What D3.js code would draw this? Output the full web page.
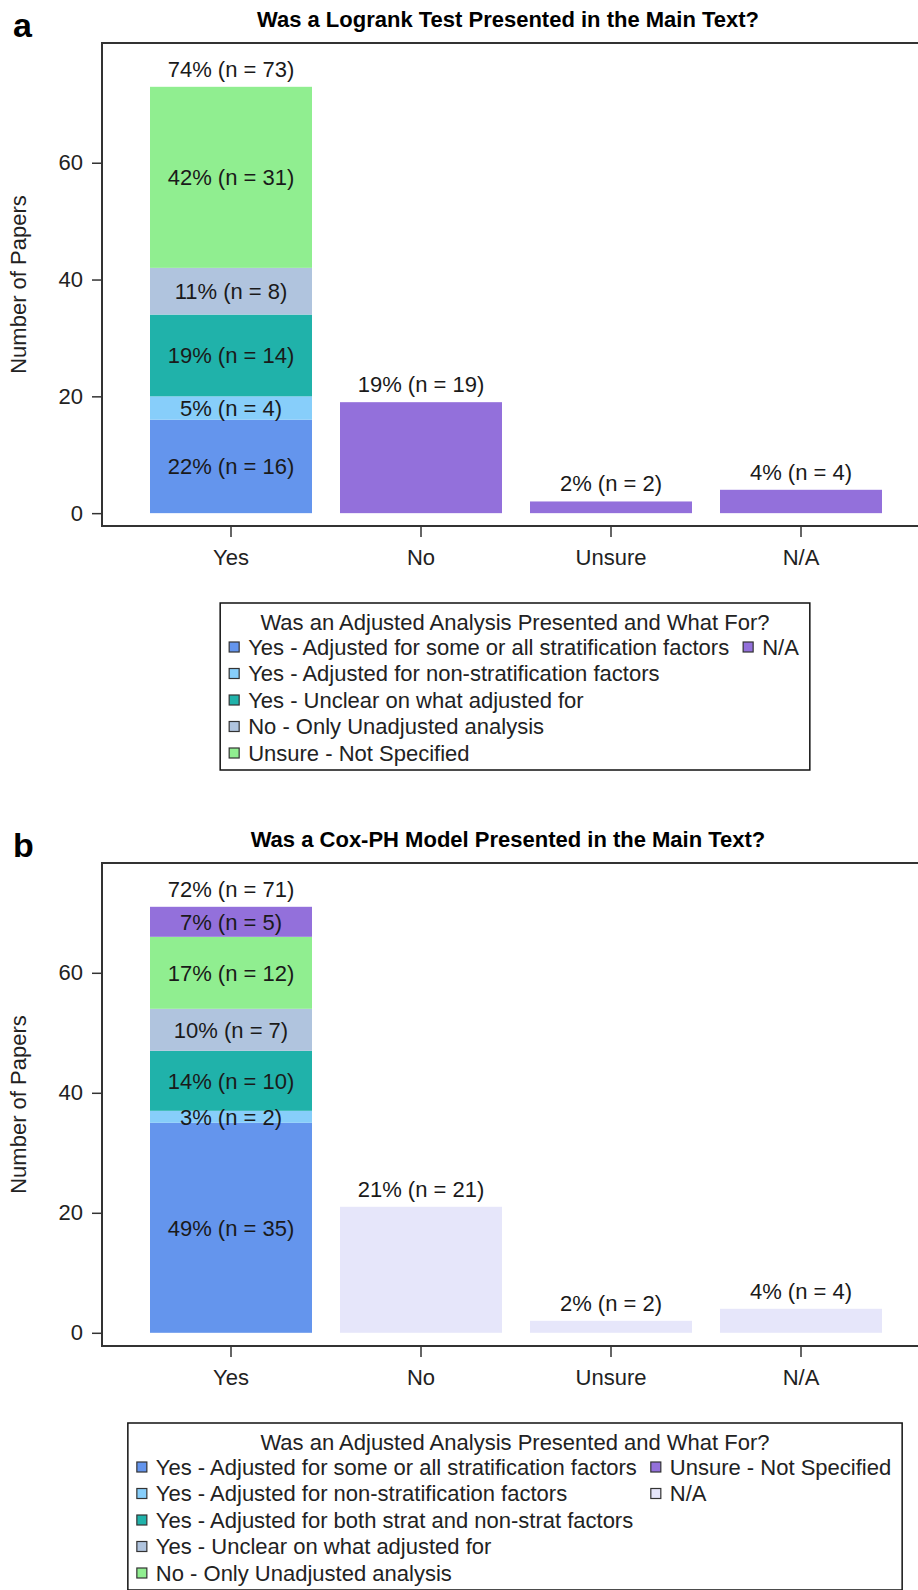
<!DOCTYPE html>
<html>
<head>
<meta charset="utf-8">
<script src="https://cdn.jsdelivr.net/npm/d3@7"></script>
<style>
  html, body { margin: 0; padding: 0; background: #fff; }
  svg { display: block; font-family: "Liberation Sans", Arial, sans-serif; }
  .axis path, .axis line { stroke: #333; }
  .axis text { font-size: 22px; fill: #222; font-family: "Liberation Sans", Arial, sans-serif; }
</style>
</head>
<body>
<div id="chart"></div>
<script>
  // Categories along the x axis (same for both panels)
  var categories = ['Yes', 'No', 'Unsure', 'N/A'];
  var yTicks = [0, 20, 40, 60];

  // Panel a: Logrank test
  var titleA = 'Was a Logrank Test Presented in the Main Text?';
  var groupsA = [
    'Yes - Adjusted for some or all stratification factors',
    'Yes - Adjusted for non-stratification factors',
    'Yes - Unclear on what adjusted for',
    'No - Only Unadjusted analysis',
    'Unsure - Not Specified',
    'N/A'
  ];
  // counts per group, one value per category
  var countsA = [
    [16, 0, 0, 0],
    [4, 0, 0, 0],
    [14, 0, 0, 0],
    [8, 0, 0, 0],
    [31, 0, 0, 0],
    [0, 19, 2, 4]
  ];

  // Panel b: Cox-PH model
  var titleB = 'Was a Cox-PH Model Presented in the Main Text?';
  var groupsB = [
    'Yes - Adjusted for some or all stratification factors',
    'Yes - Adjusted for non-stratification factors',
    'Yes - Adjusted for both strat and non-strat factors',
    'Yes - Unclear on what adjusted for',
    'No - Only Unadjusted analysis',
    'Unsure - Not Specified',
    'N/A'
  ];
  var countsB = [
    [35, 0, 0, 0],
    [2, 0, 0, 0],
    [10, 0, 0, 0],
    [7, 0, 0, 0],
    [12, 0, 0, 0],
    [5, 0, 0, 0],
    [0, 21, 2, 4]
  ];

  var legendTitle = 'Was an Adjusted Analysis Presented and What For?';
  var paletteA = ['#6495ED', '#87CEFA', '#20B2AA', '#B0C4DE', '#90EE90', '#9370DB'];
  var paletteB = ['#6495ED', '#87CEFA', '#20B2AA', '#B0C4DE', '#90EE90', '#9370DB', '#E6E6FA'];

  var W = 918, H = 1590;
  var svg = d3.select('#chart').append('svg')
      .attr('width', W).attr('height', H);

  function translation(x, y) {
    return 'translate(' + x + ',' + y + ')';
  }

  function drawPanel(opt) {
    var oy = opt.offsetY;
    var g = svg.append('g').attr('transform', translation(0, oy));

    var x0 = 102, y0 = 43, y1 = 526, xRight = 960;

    var x = d3.scaleBand().domain(categories).range([136, 896])
        .paddingInner(28 / 190).paddingOuter(14 / 190);
    var y = d3.scaleLinear().domain(opt.yDomain).range([y1, y0]);

    // panel letter and title
    g.append('text').attr('x', 13).attr('y', 37)
        .style('font-size', '34px').style('font-weight', 'bold').text(opt.letter);
    g.append('text').attr('x', 508).attr('y', 27).attr('text-anchor', 'middle')
        .style('font-size', '22px').style('font-weight', 'bold').text(opt.title);

    // stack the data
    var rows = categories.map(function(c, i) {
      var r = {cat: c};
      opt.groups.forEach(function(gname, j) { r[gname] = opt.counts[j][i]; });
      return r;
    });
    var stack = d3.stack().keys(opt.groups)(rows);
    var totals = categories.map(function(c, i) {
      return d3.sum(opt.counts, function(s) { return s[i]; });
    });
    var grand = d3.sum(totals);
    var nonZero = categories.map(function(c, i) {
      return opt.counts.filter(function(s) { return s[i] > 0; }).length;
    });

    var color = d3.scaleOrdinal().domain(opt.groups).range(opt.palette);

    var layers = g.append('g').selectAll('g').data(stack).join('g')
        .attr('fill', function(d) { return color(d.key); });

    layers.selectAll('rect')
      .data(function(d) { return d.filter(function(p) { return p[1] - p[0] > 0; }); })
      .join('rect')
        .attr('x', function(d) { return x(d.data.cat); })
        .attr('width', x.bandwidth())
        .attr('y', function(d) { return y(d[1]); })
        .attr('height', function(d) { return y(d[0]) - y(d[1]); });

    // labels inside segments (only for bars with several segments)
    var segLabels = [];
    stack.forEach(function(layer) {
      layer.forEach(function(p, i) {
        var n = p[1] - p[0];
        if (n > 0 && nonZero[i] > 1) {
          segLabels.push({cat: p.data.cat, mid: (p[0] + p[1]) / 2, n: n, pct: Math.round(100 * n / totals[i])});
        }
      });
    });
    g.append('g').selectAll('text').data(segLabels).join('text')
        .attr('x', function(d) { return x(d.cat) + x.bandwidth() / 2; })
        .attr('y', function(d) { return y(d.mid); })
        .attr('dy', '0.36em')
        .attr('text-anchor', 'middle')
        .style('font-size', '22px').style('fill', '#1a1a1a')
        .text(function(d) { return d.pct + '% (n = ' + d.n + ')'; });

    // total labels above bars
    g.append('g').selectAll('text').data(categories).join('text')
        .attr('x', function(d) { return x(d) + x.bandwidth() / 2; })
        .attr('y', function(d, i) { return y(totals[i]) - 10; })
        .attr('text-anchor', 'middle')
        .style('font-size', '22px').style('fill', '#1a1a1a')
        .text(function(d, i) { return Math.round(100 * totals[i] / grand) + '% (n = ' + totals[i] + ')'; });

    // frame (top line, right side runs off the page)
    g.append('path')
        .attr('d', 'M' + xRight + ',' + y0 + 'H' + x0 + 'V' + y1 + 'H' + xRight)
        .attr('fill', 'none').attr('stroke', '#333').attr('stroke-width', 2);

    // axes
    var yAxis = d3.axisLeft(y).tickValues(yTicks).tickSize(10).tickPadding(9);
    g.append('g').attr('class', 'axis').attr('transform', translation(x0, 0))
        .call(yAxis)
        .call(function(s) { s.select('.domain').remove(); })
        .selectAll('line').attr('stroke-width', 1.5);

    var xAxis = d3.axisBottom(x).tickSize(11).tickPadding(12);
    g.append('g').attr('class', 'axis').attr('transform', translation(0, y1))
        .call(xAxis)
        .call(function(s) { s.select('.domain').remove(); })
        .selectAll('line').attr('stroke-width', 1.5);

    g.append('text')
        .attr('transform', translation(26, (y0 + y1) / 2) + ' rotate(-90)')
        .attr('text-anchor', 'middle')
        .style('font-size', '22px').style('fill', '#222')
        .text('Number of Papers');

    // legend: 5 rows per column, filled column by column
    var lg = g.append('g');
    var top = 603, rowH = 26.5, perCol = 5;
    var box = lg.append('rect').attr('fill', 'none').attr('stroke', '#111').attr('stroke-width', 1.5);
    var ttl = lg.append('text').attr('text-anchor', 'middle').attr('y', top + 27)
        .style('font-size', '22px').style('fill', '#222').text(legendTitle);

    var items = lg.selectAll('g.item').data(opt.groups).join('g').attr('class', 'item');
    items.append('rect').attr('width', 10).attr('height', 10)
        .attr('fill', function(d) { return color(d); })
        .attr('stroke', '#333').attr('stroke-width', 1.2);
    items.append('text').attr('x', 19).attr('dy', '0.36em').attr('y', 0)
        .style('font-size', '22px').style('fill', '#222')
        .text(function(d) { return d; });

    var widths = [];
    items.select('text').each(function(d, i) {
      var c = Math.floor(i / perCol);
      widths[c] = Math.max(widths[c] || 0, this.getComputedTextLength());
    });
    var colX = [9];
    for (var c = 1; c < widths.length; c++) colX[c] = colX[c - 1] + 19 + widths[c - 1] + 14;
    var boxW = colX[widths.length - 1] + 19 + widths[widths.length - 1] + 11;
    var boxLeft = 515 - boxW / 2;

    items.attr('transform', function(d, i) {
      var c = Math.floor(i / perCol), r = i % perCol;
      return translation(boxLeft + colX[c], top + 44 + r * rowH);
    });
    items.select('rect').attr('y', -5);

    box.attr('x', boxLeft).attr('y', top).attr('width', boxW).attr('height', 44 + 4 * rowH + 17);
    ttl.attr('x', boxLeft + boxW / 2);
  }

  drawPanel({offsetY: 0, letter: 'a', title: titleA, groups: groupsA, counts: countsA,
             palette: paletteA, yDomain: [-2.2, 80.5]});
  drawPanel({offsetY: 820, letter: 'b', title: titleB, groups: groupsB, counts: countsB,
             palette: paletteB, yDomain: [-2.2, 78.3]});
</script>
</body>
</html>
